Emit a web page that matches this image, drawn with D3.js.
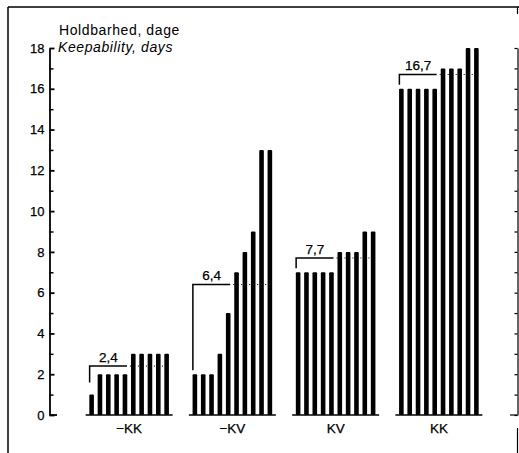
<!DOCTYPE html>
<html>
<head>
<meta charset="utf-8">
<script src="https://cdn.jsdelivr.net/npm/d3@7"></script>
<style>
  body { margin: 0; background: #fff; }
  svg text { font-family: "Liberation Sans", Arial, sans-serif; fill: #000; }
</style>
</head>
<body>
<div class="chart"></div>
<script>
// data
var categories = ["\u2212KK", "\u2212KV", "KV", "KK"];
var series = [
    [1, 2, 2, 2, 2, 3, 3, 3, 3, 3],
    [2, 2, 2, 3, 5, 7, 8, 9, 13, 13],
    [7, 7, 7, 7, 7, 8, 8, 8, 9, 9],
    [16, 16, 16, 16, 16, 17, 17, 17, 18, 18]
];
var means = [2.4, 6.4, 7.7, 16.7];
var meanLabels = ["2,4", "6,4", "7,7", "16,7"];
// where the left leg of each bracket stops (days)
var legEnds = [1.6, 2.2, 7.2, 16.2];
var yTicks = [0, 2, 4, 6, 8, 10, 12, 14, 16, 18];
var yMinor = [1, 3, 5, 7, 9, 11, 13, 15, 17];
var yAll = d3.range(0, 19);

var width = 519, height = 453;

var svg = d3.select('.chart').append('svg')
    .attr('width', width)
    .attr('height', height);

var y = d3.scaleLinear().domain([0, 18]).range([415, 48]);

// groups
var x0 = d3.scaleBand().domain(categories).range([77.5, 490.5]);
// bars inside a group, relative to group centre
var x1 = d3.scalePoint().domain(d3.range(10)).range([-37.5, 37.5]);
var barW = 4.6;

// frame round the figure
svg.append('line').attr('x1', 8).attr('y1', 7).attr('x2', 519).attr('y2', 7)
    .style('stroke', '#000').style('stroke-width', 1.5);
svg.append('line').attr('x1', 8).attr('y1', 7).attr('x2', 8).attr('y2', 453)
    .style('stroke', '#000').style('stroke-width', 1.5);
svg.append('line').attr('x1', 517.5).attr('y1', 7).attr('x2', 517.5).attr('y2', 14)
    .style('stroke', '#000').style('stroke-width', 1.2);
svg.append('line').attr('x1', 517.5).attr('y1', 428).attr('x2', 517.5).attr('y2', 453)
    .style('stroke', '#000').style('stroke-width', 1.2);

// left axis
var axL = svg.append('g').attr('transform', 'translate(49.5,0)')
    .call(d3.axisLeft(y).tickValues(yTicks).tickSizeInner(-5).tickSizeOuter(0).tickPadding(5));
axL.selectAll('text').style('font-size', '13px').style('font-family', '"Liberation Sans", Arial, sans-serif')
    .style('stroke', '#000').style('stroke-width', 0.25);
axL.selectAll('line, path').style('stroke', '#000').style('stroke-width', 1.8);
var axLm = svg.append('g').attr('transform', 'translate(49.5,0)')
    .call(d3.axisLeft(y).tickValues(yMinor).tickSizeInner(-4).tickSizeOuter(0).tickFormat(''));
axLm.selectAll('line').style('stroke', '#000').style('stroke-width', 1.5);
axLm.select('.domain').remove();
svg.append('line').attr('x1', 49.5).attr('y1', y(0)).attr('x2', 57).attr('y2', y(0))
    .style('stroke', '#000').style('stroke-width', 1.8);

// right axis (cut off at the edge)
var axR = svg.append('g').attr('transform', 'translate(517.5,0)')
    .call(d3.axisRight(y).tickValues(yAll).tickSizeInner(-3).tickSizeOuter(0).tickFormat(''));
axR.selectAll('line, path').style('stroke', '#000').style('stroke-width', 1.2);
svg.append('line').attr('x1', 510).attr('y1', y(0)).attr('x2', 517.5).attr('y2', y(0))
    .style('stroke', '#000').style('stroke-width', 1.2);

// axis title
svg.append('text').attr('x', 59).attr('y', 34.5)
    .style('font-size', '14px').style('letter-spacing', '0.6px')
    .text('Holdbarhed, dage');
svg.append('text').attr('x', 58).attr('y', 52)
    .style('font-size', '14px').style('letter-spacing', '0.6px')
    .style('font-style', 'italic').text('Keepability, days');

// groups of bars
var groups = svg.selectAll('.grp').data(categories).enter().append('g')
    .attr('class', 'grp')
    .attr('transform', function (d) { return 'translate(' + (x0(d) + x0.bandwidth() / 2) + ',0)'; });

groups.append('line')
    .attr('x1', -43.5).attr('x2', 43.5)
    .attr('y1', y(0)).attr('y2', y(0))
    .style('stroke', '#000').style('stroke-width', 1.5);

groups.selectAll('rect')
    .data(function (d, i) { return series[i]; })
    .enter().append('rect')
    .attr('x', function (d, j) { return x1(j) - barW / 2; })
    .attr('y', function (d) { return y(d); })
    .attr('width', barW)
    .attr('height', function (d) { return y(0) - y(d); })
    .attr('rx', 1)
    .style('fill', '#000');

// bracket over the first five bars, dotted over the last five
groups.each(function (d, i) {
    var g = d3.select(this);
    var my = y(means[i]);
    var bx0 = x1(0) - 2, bx1 = x1(4) + 2;
    g.append('path')
        .attr('d', 'M' + bx0 + ',' + y(legEnds[i]) + 'V' + my + 'H' + bx1)
        .style('fill', 'none').style('stroke', '#000').style('stroke-width', 1.5);
    g.append('line')
        .attr('x1', bx1 + 3).attr('x2', x1(9) + 2)
        .attr('y1', my).attr('y2', my)
        .style('stroke', '#000').style('stroke-width', 1)
        .style('stroke-dasharray', '1,3');
    g.append('text')
        .attr('x', (bx0 + bx1) / 2).attr('y', my - 4.5)
        .attr('text-anchor', 'middle')
        .style('font-size', '13.5px')
        .style('stroke', '#000').style('stroke-width', 0.25)
        .text(meanLabels[i]);
    g.append('text')
        .attr('x', 0).attr('y', 433)
        .attr('text-anchor', 'middle')
        .style('font-size', '13.5px')
        .style('stroke', '#000').style('stroke-width', 0.25)
        .text(d);
});
</script>
</body>
</html>
